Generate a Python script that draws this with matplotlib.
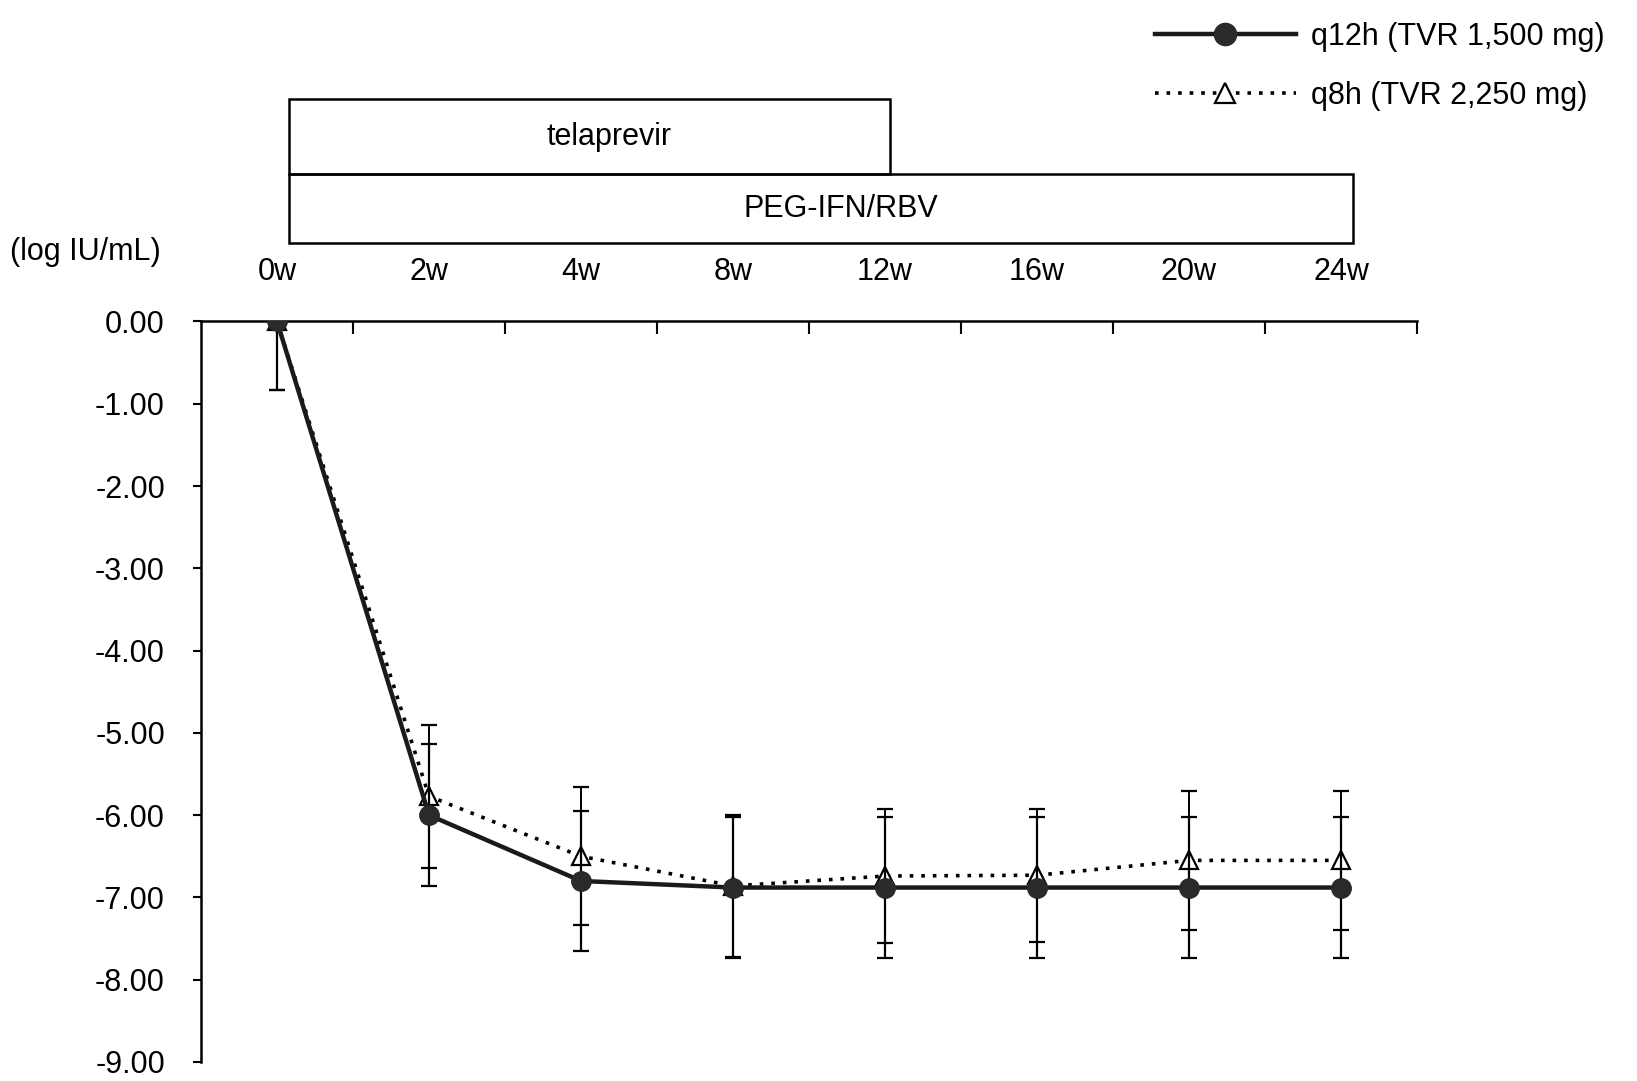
import numpy as np
import matplotlib.pyplot as plt
import matplotlib.transforms as mtransforms
from matplotlib.patches import Rectangle
from matplotlib.lines import Line2D

plt.rcParams['font.family'] = ['Liberation Sans', 'DejaVu Sans']
plt.rcParams['axes.unicode_minus'] = False

# 数据
weeks = ['0w', '2w', '4w', '8w', '12w', '16w', '20w', '24w']
q12h = [0.00, -6.00, -6.80, -6.88, -6.88, -6.88, -6.88, -6.88]
q12h_err = [0.83, 0.86, 0.85, 0.86, 0.86, 0.86, 0.86, 0.86]
q8h = [0.00, -5.77, -6.50, -6.86, -6.74, -6.73, -6.55, -6.55]
q8h_err = [0.83, 0.87, 0.84, 0.86, 0.82, 0.81, 0.84, 0.84]
y_ticks = [0, -1, -2, -3, -4, -5, -6, -7, -8, -9]

# 给药期（以周索引表示起止）
phase_names = ['telaprevir', 'PEG-IFN/RBV']
phase_start = [0.08, 0.08]
phase_end = [4.03, 7.08]

fs = 22
x = np.arange(len(weeks))

fig = plt.figure(figsize=(16.37, 10.81), dpi=100)
ax = fig.add_axes([0.1228, 0.0176, 0.7428, 0.685])

# q8h 虚线 + 空心三角
ax.errorbar(x, q8h, yerr=q8h_err, color='black', ls=(0, (1, 2.2)), lw=2.6,
            marker='^', ms=13, mfc='white', mec='black', mew=1.6,
            ecolor='black', elinewidth=1.4, capsize=6, capthick=1.4, zorder=3)
# q12h 实线 + 实心圆
ax.errorbar(x, q12h, yerr=q12h_err, color='#1a1a1a', ls='-', lw=3.2,
            marker='o', ms=14, mfc='#2a2a2a', mec='#2a2a2a',
            ecolor='black', elinewidth=1.6, capsize=6, capthick=1.6, zorder=4)

ax.set_xlim(-0.5, 7.5)
ax.set_ylim(-9, 0)

# 坐标轴样式
ax.spines['right'].set_visible(False)
ax.spines['bottom'].set_visible(False)
ax.spines['top'].set_linewidth(1.8)
ax.spines['left'].set_linewidth(1.8)

ax.xaxis.set_ticks_position('top')
ax.set_xticks(x)
ax.set_xticklabels(weeks)
ax.set_xticks(np.arange(0.5, 8, 1), minor=True)
ax.tick_params(axis='x', which='major', length=0, pad=25, labelsize=fs)
ax.tick_params(axis='x', which='minor', direction='in', length=9, width=1.5, top=True)

ax.set_yticks(y_ticks)
ax.set_yticklabels(['%.2f' % v for v in y_ticks])
ax.tick_params(axis='y', direction='out', length=6, width=1.5, pad=20, labelsize=fs)

fig.text(0.006, 0.767, '(log IU/mL)', fontsize=fs, ha='left', va='center')

# 给药期方框
trans = mtransforms.blended_transform_factory(ax.transData, fig.transFigure)
box_bottom = [0.839, 0.775]
box_top = [0.9084, 0.839]
for name, s, e, b, t in zip(phase_names, phase_start, phase_end, box_bottom, box_top):
    rect = Rectangle((s, b), e - s, t - b, transform=trans, fill=False,
                     edgecolor='black', lw=1.8, clip_on=False)
    fig.add_artist(rect)
    fig.text((s + e) / 2 + 0.13, (b + t) / 2, name, transform=trans, fontsize=fs,
             ha='center', va='center')

# 图例
handles = [
    Line2D([], [], color='#1a1a1a', ls='-', lw=3.2, marker='o', ms=16,
           mfc='#2a2a2a', mec='#2a2a2a'),
    Line2D([], [], color='black', ls=(0, (1, 2.2)), lw=2.6, marker='^', ms=15,
           mfc='white', mec='black', mew=1.6),
]
labels = ['q12h (TVR 1,500 mg)', 'q8h (TVR 2,250 mg)']
fig.legend(handles, labels, loc='upper right', bbox_to_anchor=(0.997, 1.005),
           frameon=False, fontsize=fs, handlelength=4.6, handletextpad=0.5,
           labelspacing=0.95, numpoints=1)

fig.savefig('out.png', dpi=100)
